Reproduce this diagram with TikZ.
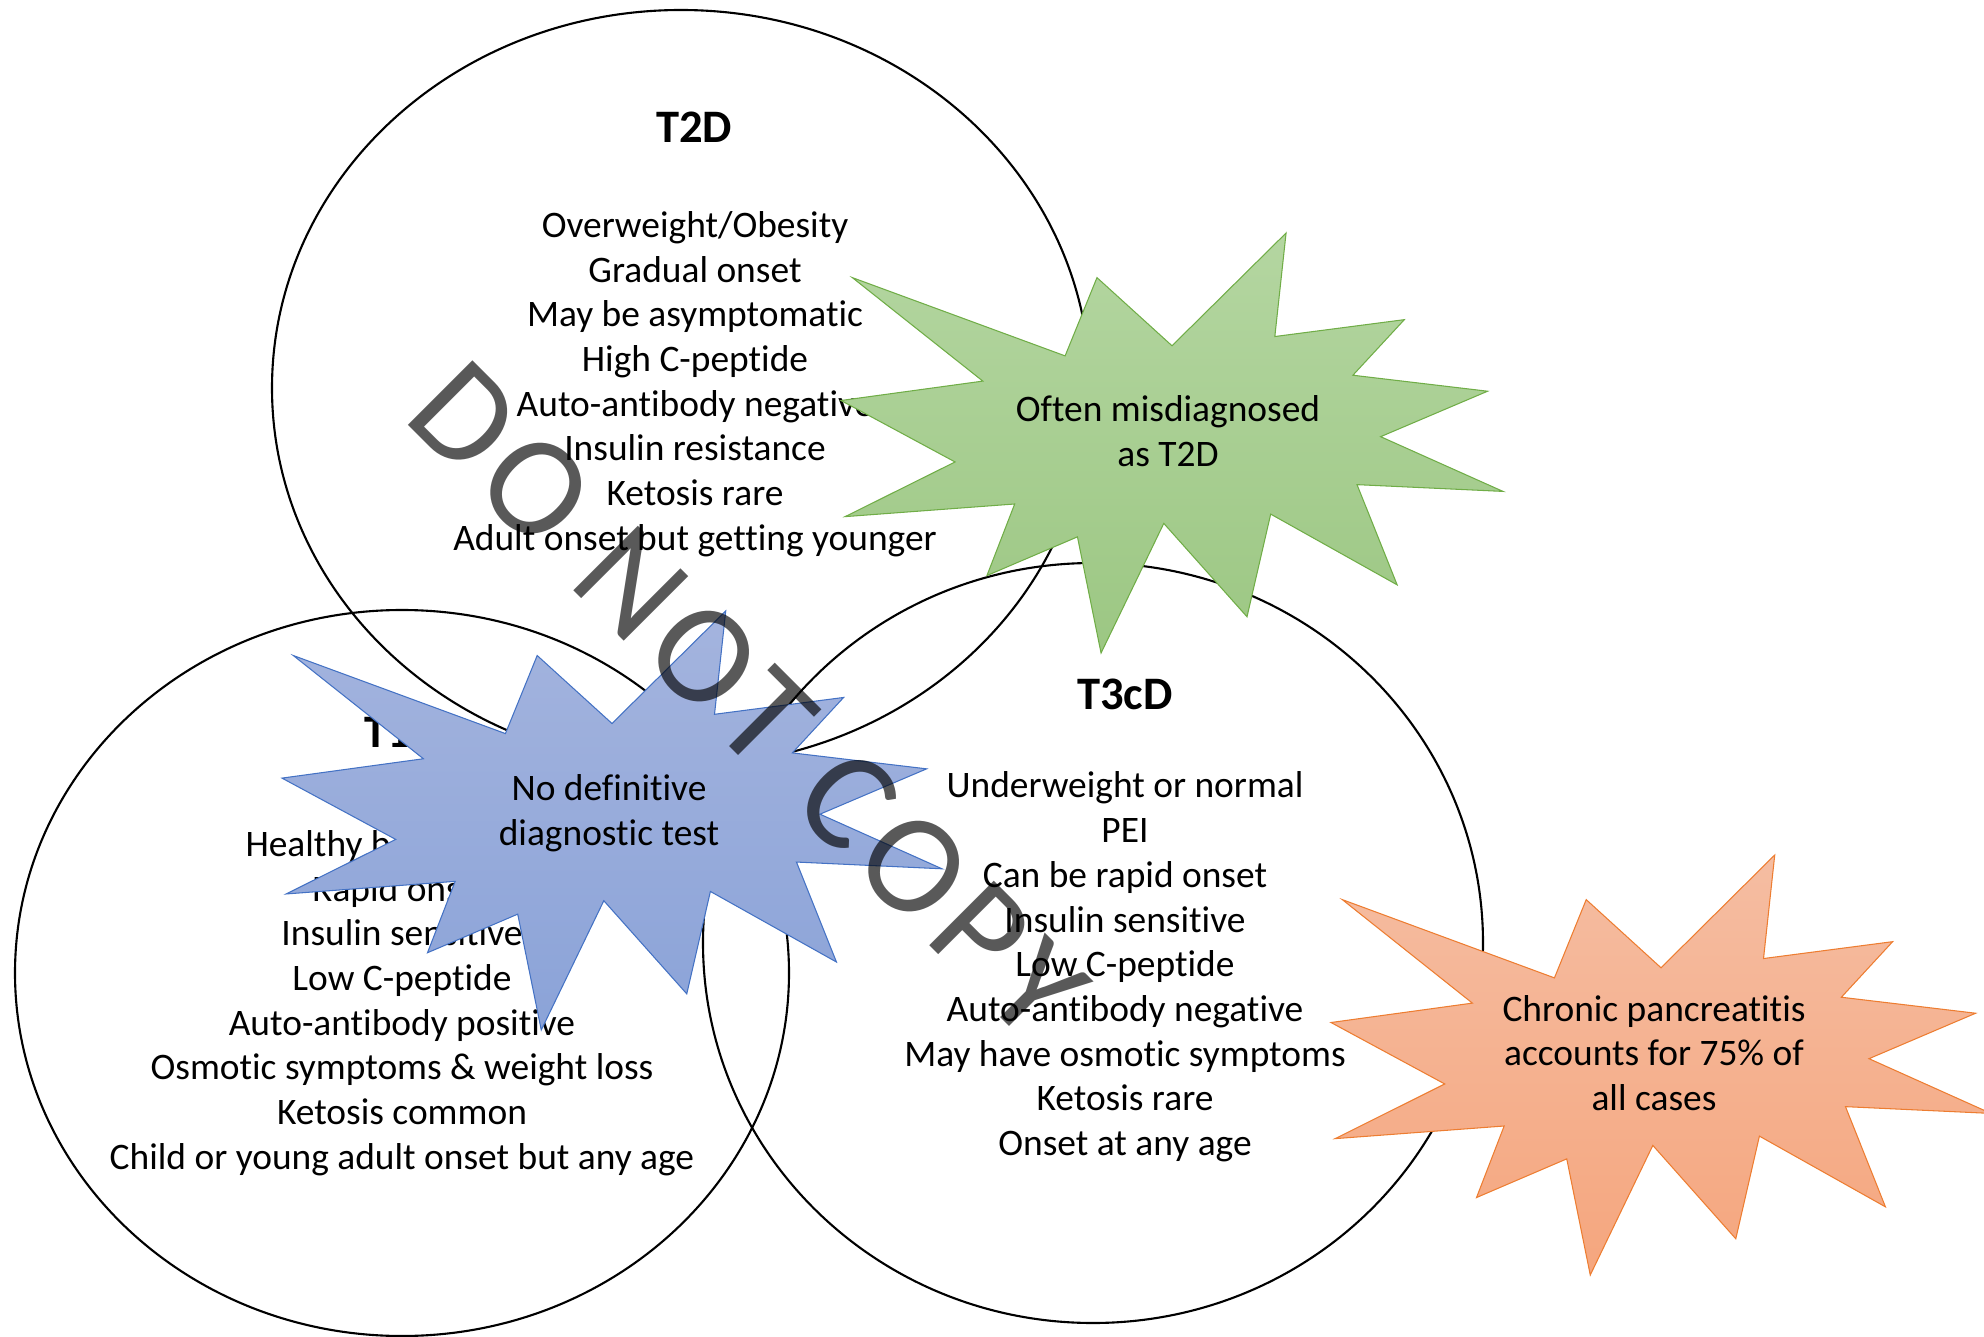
\documentclass[tikz,border=0pt]{standalone}
\usepackage{fontspec}
\setmainfont{Carlito}[Ligatures=NoCommon]
\newfontfamily\stampfont[LetterSpace=7]{Carlito}
\usetikzlibrary{shadings}

\definecolor{greenedge}{HTML}{70AD47}
\definecolor{greentop}{HTML}{B4D6A1}
\definecolor{greenbot}{HTML}{9CC783}
\definecolor{blueedge}{HTML}{4472C4}
\definecolor{bluetop}{HTML}{A4B4DE}
\definecolor{bluebot}{HTML}{8BA3D8}
\definecolor{orangeedge}{HTML}{ED7D31}
\definecolor{orangetop}{HTML}{F5BDA2}
\definecolor{orangebot}{HTML}{F5A67E}

% explosion outline in a box: style, left, top, width, height
\newcommand{\explosion}[5]{%
    \path[#1, shift={(#2,#3)}, xscale=#4/216, yscale=#5/216]
        (108,58) -- (145.22,0) -- (141.55,53.25) -- (183.80,44.57) -- (167.02,73.15)
        -- (210.97,81.37) -- (176.07,104.75) -- (216,132.90) -- (168.37,129.42)
        -- (181.45,180.95) -- (140.20,144.57) -- (132.47,197.37) -- (105.32,149.35)
        -- (84.85,216) -- (77.15,156.27) -- (47.62,176.17) -- (56.67,139.37)
        -- (1.35,145.87) -- (37.22,117.75) -- (0,86.15) -- (46.27,76.17)
        -- (3.70,22.95) -- (73.12,63.20) -- (83.52,22.95) -- cycle;}

\begin{document}
\begin{tikzpicture}[x=0.02cm, y=-0.02cm,
        ring/.style={draw=black, line width=1.2pt},
        heading/.style={font=\fontsize{26.5}{31}\selectfont\bfseries},
        facts/.style={align=center, font=\fontsize{21.3}{25.44}\selectfont},
        burst/.style={line width=0.6pt}]
        \useasboundingbox (0,0) rectangle (1984,1337);

        \draw[ring] (681,388) ellipse [x radius=409, y radius=378];
        \draw[ring] (402,973) ellipse [x radius=387, y radius=363];
        \draw[ring] (1093,943) ellipse [x radius=390, y radius=380];

        \node[heading] (t2d) at (694,127) {T2D};
        \node[facts] (t2dlist) at (695,384) {Overweight/Obesity\\Gradual onset\\May be asymptomatic\\High C-peptide\\Auto-antibody negative\\Insulin resistance\\Ketosis rare\\Adult onset but getting younger};

        \node[heading] (t1d) at (402,732) {T1D};
        \node[facts] (t1dlist) at (402,1003) {Healthy body weight\\Rapid onset\\Insulin sensitive\\Low C-peptide\\Auto-antibody positive\\Osmotic symptoms \& weight loss\\Ketosis common\\Child or young adult onset but any age};

        \node[heading] (t3cd) at (1125,694) {T3cD};
        \node[facts] (t3cdlist) at (1125,967) {Underweight or normal\\PEI\\Can be rapid onset\\Insulin sensitive\\Low C-peptide\\Auto-antibody negative\\May have osmotic symptoms\\Ketosis rare\\Onset at any age};

        \explosion{burst, draw=greenedge, top color=greentop, bottom color=greenbot}{841}{233}{662}{420}
        \node[facts] (misdiag) at (1168,431) {Often misdiagnosed\\as T2D};

        \explosion{burst, draw=blueedge, top color=bluetop, bottom color=bluebot}{282}{611}{660}{419}
        \node[facts] (notest) at (609,813) {No definitive\\diagnostic test};

        \explosion{burst, draw=orangeedge, top color=orangetop, bottom color=orangebot}{1331}{855}{660}{420}
        \node[facts] (chronic) at (1654,1053) {Chronic pancreatitis\\accounts for 75\% of\\all cases};

        \node[rotate=-45, text=black, text opacity=0.65, font=\stampfont\fontsize{81}{81}\selectfont] (nocopy) at (748,700) {DO NOT COPY};
    \end{tikzpicture}
\end{document}
